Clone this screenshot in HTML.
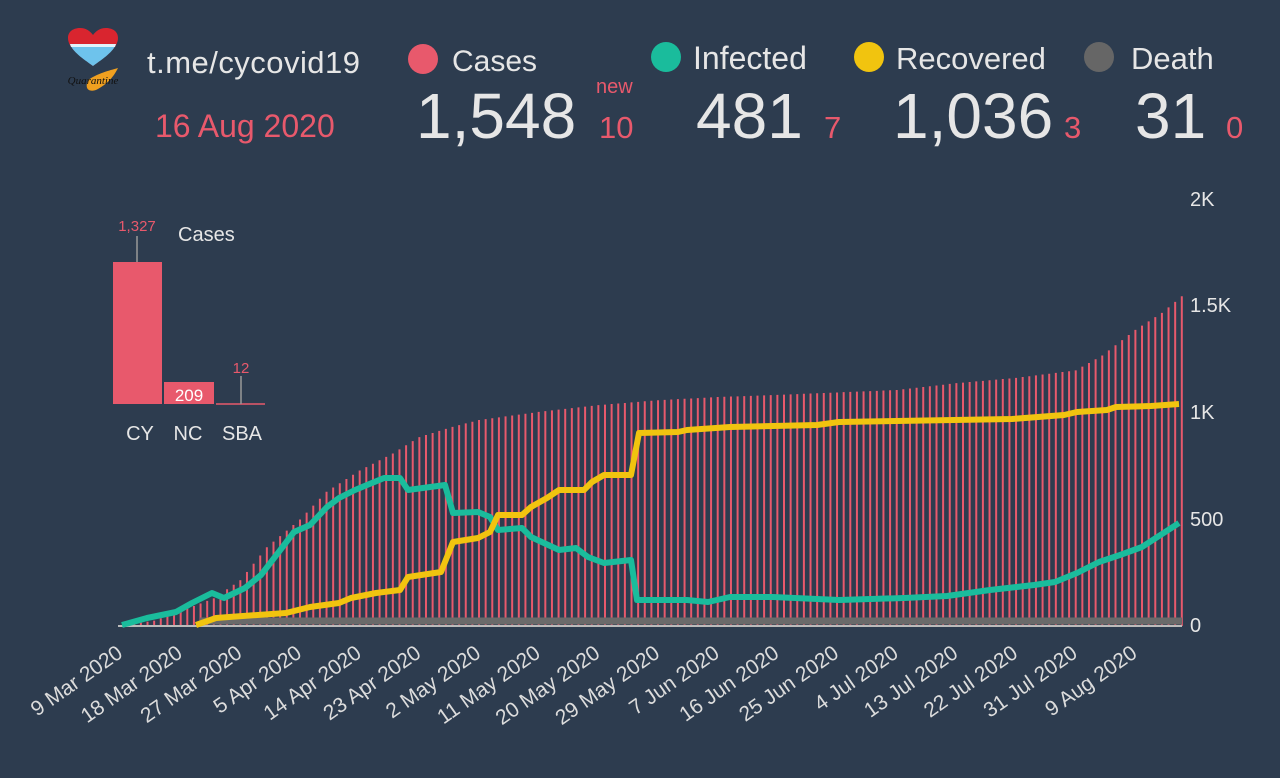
<!DOCTYPE html>
<html><head><meta charset="utf-8"><style>
html,body{margin:0;padding:0;background:#2d3c4f;}
svg{display:block;font-family:"Liberation Sans",sans-serif;}
</style></head><body>
<svg id="s" width="1280" height="778" viewBox="0 0 1280 778" xmlns="http://www.w3.org/2000/svg">
<rect width="1280" height="778" fill="#2d3c4f"/>
<path d="M93,66 C80,56 68,48 68,38 C68,31 74,28 80,28 C86,28 90,31 93,35 C96,31 100,28 106,28 C112,28 118,31 118,38 C118,48 106,56 93,66 Z" fill="#d9252f"/>
<path d="M70,44 L116,44 C113,52 104,58 93,66 C82,58 73,52 70,44 Z" fill="#6ec3ec"/>
<path d="M70,44 L116,44 L115,47 L71,47 Z" fill="#ffffff" opacity="0.8"/>
<path d="M88,80 C100,72 112,70 118,68 C114,76 108,84 96,90 C90,92 84,90 88,80 Z" fill="#f0a020"/>
<text x="93" y="84" font-size="11" font-style="italic" fill="#111" text-anchor="middle" font-family="Liberation Serif,serif">Quarantine</text>

<text x="147" y="73" font-size="31" fill="#e6e6e6" textLength="213">t.me/cycovid19</text>
<text x="155" y="137" font-size="32" fill="#e8596c">16 Aug 2020</text>

<circle cx="423" cy="59" r="15" fill="#e8596c"/>
<text x="452" y="71" font-size="30" fill="#e6e6e6">Cases</text>
<text x="416" y="138" font-size="64" fill="#e6e6e6">1,548</text>
<text x="596" y="93" font-size="20" fill="#e8596c">new</text>
<text x="599" y="138" font-size="31" fill="#e8596c">10</text>

<circle cx="666" cy="57" r="15" fill="#1abc9c"/>
<text x="693" y="69" font-size="32" fill="#e6e6e6">Infected</text>
<text x="696" y="138" font-size="64" fill="#e6e6e6">481</text>
<text x="824" y="138" font-size="31" fill="#e8596c">7</text>

<circle cx="869" cy="57" r="15" fill="#f1c40f"/>
<text x="896" y="69" font-size="31" fill="#e6e6e6">Recovered</text>
<text x="893" y="138" font-size="64" fill="#e6e6e6">1,036</text>
<text x="1064" y="138" font-size="31" fill="#e8596c">3</text>

<circle cx="1099" cy="57" r="15" fill="#666"/>
<text x="1131" y="69" font-size="31" fill="#e6e6e6">Death</text>
<text x="1135" y="138" font-size="64" fill="#e6e6e6">31</text>
<text x="1226" y="138" font-size="31" fill="#e8596c">0</text>

<rect x="113" y="262" width="49" height="142" fill="#e8596c"/>
<rect x="164" y="382" width="50" height="22" fill="#e8596c"/>
<line x1="216" y1="404" x2="265" y2="404" stroke="#e8596c" stroke-width="1.5"/>
<line x1="137" y1="236" x2="137" y2="262" stroke="#999" stroke-width="1.5"/>
<line x1="241" y1="376" x2="241" y2="404" stroke="#999" stroke-width="1.5"/>
<text x="137" y="231" font-size="15" fill="#e8596c" text-anchor="middle">1,327</text>
<text x="241" y="373" font-size="15" fill="#e8596c" text-anchor="middle">12</text>
<text x="178" y="241" font-size="20" fill="#e6e6e6">Cases</text>
<text x="189" y="401" font-size="17" fill="#fff" text-anchor="middle">209</text>
<text x="140" y="440" font-size="20" fill="#e6e6e6" text-anchor="middle">CY</text>
<text x="188" y="440" font-size="20" fill="#e6e6e6" text-anchor="middle">NC</text>
<text x="242" y="440" font-size="20" fill="#e6e6e6" text-anchor="middle">SBA</text>

<g font-size="20" fill="#e6e6e6">
<text x="1190" y="206">2K</text>
<text x="1190" y="312">1.5K</text>
<text x="1190" y="419">1K</text>
<text x="1190" y="526">500</text>
<text x="1190" y="632">0</text>
</g>
<g id="bars" stroke="#e8596c" stroke-width="2"></g>
<line x1="118" y1="626" x2="1182" y2="626" stroke="#bbb" stroke-width="2"/>
<polyline points="200,621 1182,621" stroke="#6a6a6a" stroke-width="7" fill="none"/>
<polyline fill="none" stroke="#1abc9c" stroke-width="6" stroke-linejoin="round" points="122,625 147,618 176,612 192,603 212,593 224,598 245,588 261,575 278,553 294,532 310,525 327,507 339,498 355,490 367,485 384,478 400,478 408,490 445,485 453,513 478,512 490,517 498,530 522,528 531,537 559,550 576,548 588,557 604,563 631,560 637,600 687,600 708,602 730,597 773,597 839,600 904,598 947,596 990,590 1034,585 1055,582 1077,573 1099,562 1120,555 1142,547 1179,523"/>
<polyline fill="none" stroke="#f1c40f" stroke-width="6" stroke-linejoin="round" points="196,625 216,618 229,617 286,613 310,607 339,603 351,598 376,593 400,590 408,577 441,572 453,542 478,538 490,532 498,515 522,515 531,507 547,498 559,490 584,490 592,482 604,475 631,475 639,433 678,432 687,430 730,427 817,425 839,422 1012,419 1064,415 1077,412 1107,410 1116,407 1151,406 1179,404"/>
<g id="xl" font-size="21" fill="#dcdcdc" text-anchor="end"></g>
</svg>
<script>
var ns="http://www.w3.org/2000/svg";
function X(i){return 121+6.63*i;}
var kp=[[0,2],[5,25],[9,70],[14,130],[18,215],[22,370],[27,500],[31,630],[36,730],[41,810],[45,887],[50,935],[54,967],[63,1005],[72,1037],[81,1060],[90,1075],[99,1085],[117,1108],[126,1140],[135,1165],[144,1200],[148,1270],[153,1390],[157,1470],[160,1548]];
function v(i){for(var k=0;k<kp.length-1;k++){if(i>=kp[k][0]&&i<=kp[k+1][0]){var t=(i-kp[k][0])/(kp[k+1][0]-kp[k][0]);return kp[k][1]+t*(kp[k+1][1]-kp[k][1]);}}return 0;}
var g=document.getElementById("bars");
for(var i=0;i<=160;i++){var l=document.createElementNS(ns,"line");var x=X(i);l.setAttribute("x1",x);l.setAttribute("x2",x);l.setAttribute("y1",626);l.setAttribute("y2",626-0.213*v(i));g.appendChild(l);}
var labs=["9 Mar 2020","18 Mar 2020","27 Mar 2020","5 Apr 2020","14 Apr 2020","23 Apr 2020","2 May 2020","11 May 2020","20 May 2020","29 May 2020","7 Jun 2020","16 Jun 2020","25 Jun 2020","4 Jul 2020","13 Jul 2020","22 Jul 2020","31 Jul 2020","9 Aug 2020"];
var xl=document.getElementById("xl");
labs.forEach(function(s,j){var t=document.createElementNS(ns,"text");var x=X(j*9)+3;t.setAttribute("transform","translate("+x+",656) rotate(-35)");t.textContent=s;xl.appendChild(t);});
</script>
</body></html>
